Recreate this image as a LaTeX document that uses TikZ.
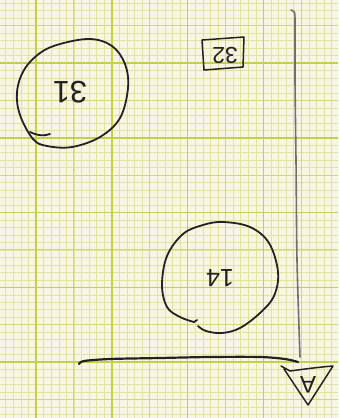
\documentclass[tikz,border=0pt]{standalone}
\usepackage{fontspec}
\setmainfont{Liberation Sans}
\definecolor{paper}{HTML}{F8F6E2}
\definecolor{gridminor}{HTML}{DFE4A2}
\definecolor{gridmed}{HTML}{CFDA72}
\definecolor{gridmajor}{HTML}{C0D24A}
\definecolor{ink}{HTML}{222222}
\definecolor{pencil}{HTML}{707070}
\begin{document}
\begin{tikzpicture}[x=1pt,y=-1pt,
  inkline/.style={draw=ink,line width=1.8pt,line cap=round,line join=round},
  pencilline/.style={draw=pencil,line width=1.6pt,line cap=round,line join=round},
  lbl/.style={text=ink,rotate=180,inner sep=0pt},
  gminor/.style={draw=gridminor,line width=0.45pt},
  gmed/.style={draw=gridmed,line width=0.9pt},
  gmajor/.style={draw=gridmajor,line width=1.5pt}]
\useasboundingbox (0,0) rectangle (338,418);
\begin{scope}
\clip (0,0) rectangle (338,418);
\fill[paper] (0,0) rectangle (338,418);
% minor grid
\foreach \i in {-4,...,40} {
  \pgfmathsetmacro\xx{36+7.58*\i}
  \draw[gminor] (\xx,0) -- (\xx,418);
}
\foreach \j in {-8,...,47} {
  \pgfmathsetmacro\yy{63+7.475*\j}
  \draw[gminor] (0,\yy) -- (338,\yy);
}
% medium grid
\foreach \i in {5,15,25,35} {
  \pgfmathsetmacro\xx{36+7.58*\i}
  \draw[gmed] (\xx,0) -- (\xx,418);
}
\foreach \j in {-5,5,15,25,35,45} {
  \pgfmathsetmacro\yy{63+7.475*\j}
  \draw[gmed] (0,\yy) -- (338,\yy);
}
% major grid
\foreach \i in {0,10,20,30,40} {
  \pgfmathsetmacro\xx{36+7.58*\i}
  \draw[gmajor] (\xx,0) -- (\xx,418);
}
\foreach \j in {0,10,20,30,40} {
  \pgfmathsetmacro\yy{63+7.475*\j}
  \draw[gmajor] (0,\yy) -- (338,\yy);
}
\end{scope}

% circle 31
\draw[inkline] plot[smooth cycle, tension=0.6] coordinates {
  (60,44) (90,39) (112,46) (125,64) (128,88) (120,118) (100,137)
  (72,147) (47,146) (33,139) (20,115) (17,92) (24,70) (40,53)};
\draw[inkline] (30,132) .. controls (38,136) and (45,136) .. (50,134);
\node[lbl,font=\fontsize{31}{31}\selectfont] (t31) at (70,92) {31};

% box 32
\draw[inkline,line width=1.5pt] (202,40) -- (244,37) -- (243,67) -- (204,70) -- cycle;
\node[lbl,font=\fontsize{23}{23}\selectfont] (t32) at (225,55) {32};

% circle 14
\draw[inkline] plot[smooth, tension=0.6] coordinates {
  (198,326) (206,331) (222,333) (240,328) (260,313) (274,296) (278,272)
  (269,243) (250,227) (223,222) (203,225) (183,234) (167,256) (162,285)
  (167,307) (180,317) (194,322)};
\draw[inkline] (194,322) -- (197,320);
\node[lbl,font=\fontsize{25}{25}\selectfont] (t14) at (220,278) {14};

% axes
\draw[pencilline] plot[smooth, tension=0.5] coordinates {
  (291,10) (294,12) (295,20) (295,80) (296,160) (297,260) (300,357)};
\draw[inkline,line width=2.2pt] plot[smooth, tension=0.5] coordinates {
  (79,364) (84,361) (110,359) (160,358) (210,357) (260,357) (285,359) (298,362)};

% triangle A
\draw[inkline,line width=1.5pt] (281,366) -- (290,371) .. controls (305,369) and (320,367) .. (333,366)
  -- (308,405) -- (284,369);
\node[lbl,font=\fontsize{24}{24}\selectfont] (tA) at (308,385) {A};
\end{tikzpicture}
\end{document}
